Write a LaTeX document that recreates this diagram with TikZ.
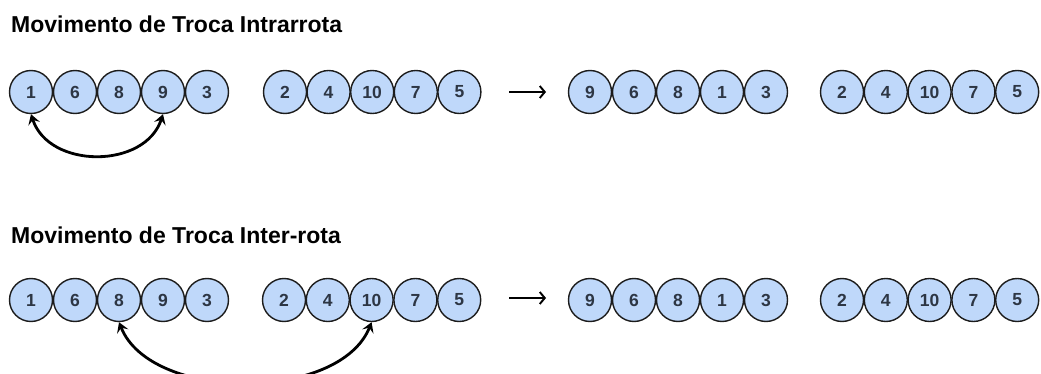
\documentclass[tikz,border=0pt]{standalone}
\usepackage{fontspec}
\setmainfont{Liberation Sans}
\usetikzlibrary{arrows.meta}
\definecolor{cfill}{RGB}{191,216,250}
\definecolor{cdraw}{RGB}{28,28,28}
\definecolor{ctext}{RGB}{45,54,68}
\begin{document}
\begin{tikzpicture}[x=1pt,y=-1pt,
  ball/.style={circle, draw=cdraw, fill=cfill, line width=1.4pt, minimum size=43pt, inner sep=0pt,
    font=\fontsize{17.5}{19}\selectfont\bfseries, text=ctext},
  heading/.style={anchor=base west, inner sep=0pt, font=\fontsize{23}{26}\selectfont\bfseries},
  swaparc/.style={line width=2.8pt, {Stealth[length=10pt,width=12pt,inset=4pt]}-{Stealth[length=10pt,width=12pt,inset=4pt]}},
  goes/.style={line width=1.9pt, -{Straight Barb[length=5pt,width=12pt]}}]
\useasboundingbox (0,0) rectangle (1041,374);
\clip (0,0) rectangle (1041,374);

% titles
\node[heading] (t1) at (11,33) {Movimento de Troca Intrarrota};
\node[heading] (t2) at (11,243) {Movimento de Troca Inter-rota};

% row 1
\foreach \v [count=\i] in {1,6,8,9,3}
  \node[ball] (r1a\i) at ({31+44*(\i-1)},92) {\v};
\foreach \v [count=\i] in {2,4,10,7,5}
  \node[ball] (r1b\i) at ({285+43.6*(\i-1)},92) {\v};
\foreach \v [count=\i] in {9,6,8,1,3}
  \node[ball] (r1c\i) at ({590+44*(\i-1)},92) {\v};
\foreach \v [count=\i] in {2,4,10,7,5}
  \node[ball] (r1d\i) at ({842+43.8*(\i-1)},92) {\v};

% row 2
\foreach \v [count=\i] in {1,6,8,9,3}
  \node[ball] (r2a\i) at ({31+44*(\i-1)},300) {\v};
\foreach \v [count=\i] in {2,4,10,7,5}
  \node[ball] (r2b\i) at ({284+43.8*(\i-1)},300) {\v};
\foreach \v [count=\i] in {9,6,8,1,3}
  \node[ball] (r2c\i) at ({590+44*(\i-1)},300) {\v};
\foreach \v [count=\i] in {2,4,10,7,5}
  \node[ball] (r2d\i) at ({842+43.8*(\i-1)},300) {\v};

% transition arrows
\coordinate (r1s) at (509,92);
\coordinate (r1e) at (546,92);
\draw[goes] (r1s) -- (r1e);
\coordinate (r2s) at (509,298);
\coordinate (r2e) at (546,298);
\draw[goes] (r2s) -- (r2e);

% swap arcs
\draw[swaparc] (r1a1.south) .. controls +(18,55) and +(-18,55) .. (r1a4.south);
\draw[swaparc] (r2a3.south) .. controls +(32,80) and +(-32,80) .. (r2b3.south);
\end{tikzpicture}
\end{document}
